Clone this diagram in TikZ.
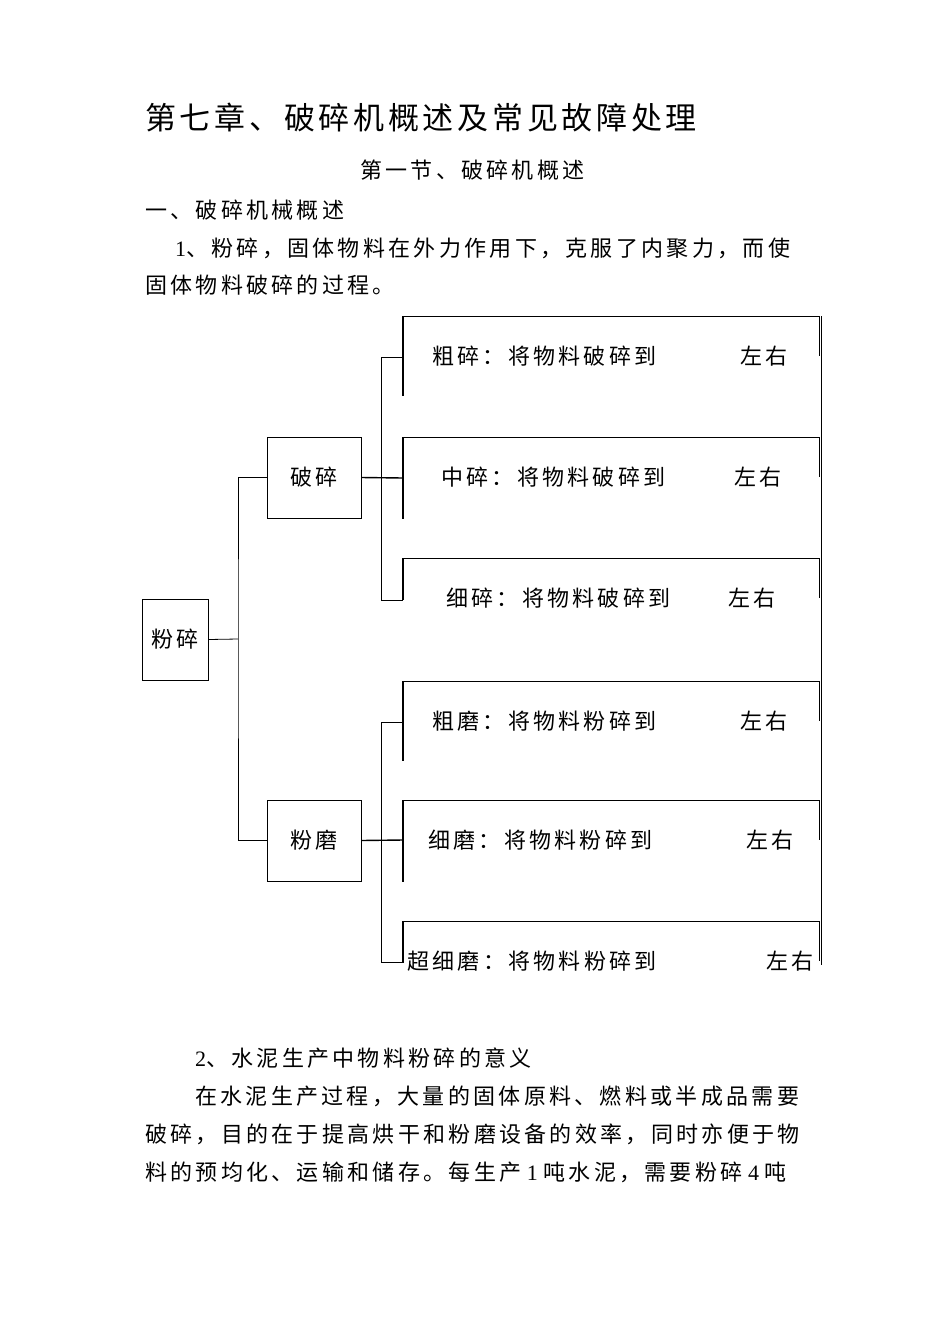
\documentclass[tikz,border=0pt]{standalone}
\usepackage{fontspec}
\setmainfont{Noto Sans CJK SC}[LetterSpace=15]
\newfontfamily\titlefont{Noto Sans CJK SC}[LetterSpace=12]
\newfontfamily\lat{Liberation Serif}
\begin{document}
\begin{tikzpicture}[x=1pt,y=-1pt,
 t/.style={anchor=west,inner sep=0pt,font=\fontsize{22}{26}\selectfont},
 bx/.style={draw,line width=0.8pt,inner sep=0pt},
 ln/.style={line width=0.8pt},
 tk/.style={line width=1.4pt}]
\useasboundingbox[fill=white] (0,0) rectangle (950,1344);
\node[anchor=west,inner sep=0pt,font=\titlefont\fontsize{31}{36}\selectfont] (title) at (145,118) {第七章、破碎机概述及常见故障处理};
\node[t] (sec) at (360,170) {第一节、破碎机概述};
\node[t] (h1) at (145,210) {一、破碎机械概述};
\node[t] (p1) at (175,248) {{\lat 1}、粉碎，固体物料在外力作用下，克服了内聚力，而使};
\node[t] (p2) at (145,285) {固体物料破碎的过程。};
\node[t] (p3) at (195,1058) {{\lat 2}、水泥生产中物料粉碎的意义};
\node[t] (p4) at (195,1096) {在水泥生产过程，大量的固体原料、燃料或半成品需要};
\node[t] (p5) at (145,1134) {破碎，目的在于提高烘干和粉磨设备的效率，同时亦便于物};
\node[t] (p6) at (145,1172) {料的预均化、运输和储存。每生产{\lat\ 1 }吨水泥，需要粉碎{\lat\ 4 }吨};
% boxes
\node[bx,minimum width=66,minimum height=81,font=\fontsize{22}{26}\selectfont] (fs) at (175,639.5) {粉碎};
\node[bx,minimum width=94,minimum height=81,font=\fontsize{22}{26}\selectfont] (ps) at (314,477.5) {破碎};
\node[bx,minimum width=94,minimum height=81,font=\fontsize{22}{26}\selectfont] (fm) at (314,840.5) {粉磨};
\coordinate (j) at (238,639);
\draw[ln] (fs.east) -- (j);
\draw[ln] (ps.west) -| (j) |- (fm.west);
% items
\foreach \n/\y/\a/\ax/\bx in {a/316/粗碎：将物料破碎到/432/740, b/437/中碎：将物料破碎到/441/734, c/558/细碎：将物料破碎到/446/728, d/681/粗磨：将物料粉碎到/432/740, e/800/细磨：将物料粉碎到/428/746, f/921/超细磨：将物料粉碎到/407/766}{
 \coordinate (\n t) at (403,\y);
 \coordinate (\n r) at (819,\y);
 \draw[ln] (\n t) -- (\n r) -- ++(0,40);
 \node[t] (\n l) at (\ax,\y+40) {\a};
 \node[t] (\n z) at (\bx,\y+40) {左右};
}
\draw[tk] (at) -- ++(0,80); \draw[tk] (bt) -- ++(0,82); \draw[tk] (ct) -- ++(0,42);
\draw[tk] (dt) -- ++(0,80); \draw[tk] (et) -- ++(0,82); \draw[tk] (ft) -- ++(0,42);
\draw[ln] (821,316) -- (821,965);
% brackets
\coordinate (u) at (381,357);
\draw[ln] (403,357) -- (u) -- (381,600) -- (403,600);
\draw[tk] (ps.east) -- (403,478);
\coordinate (v) at (381,722);
\draw[ln] (403,722) -- (v) -- (381,962) -- (403,962);
\draw[tk] (fm.east) -- (403,840);
\end{tikzpicture}
\end{document}
